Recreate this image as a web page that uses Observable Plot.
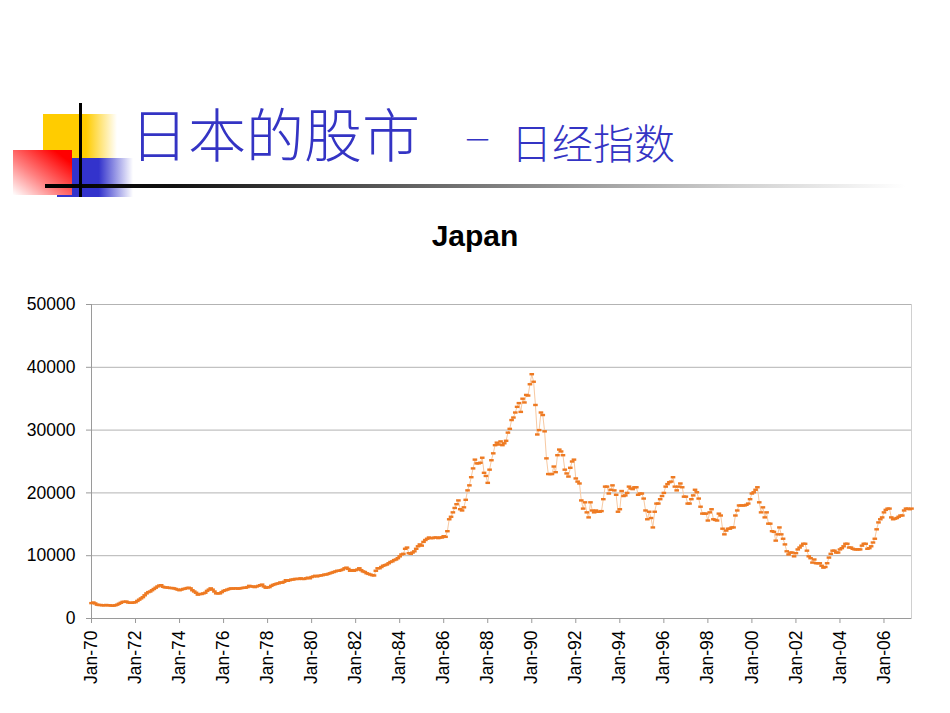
<!DOCTYPE html>
<html>
<head>
<meta charset="utf-8">
<script src="https://cdn.jsdelivr.net/npm/d3@7"></script>
<script src="https://cdn.jsdelivr.net/npm/@observablehq/plot@0.6"></script>
<style>
  html, body { margin: 0; padding: 0; background: #fff; }
  #page { position: relative; width: 950px; height: 713px; overflow: hidden; background: #fff; }
  .abs { position: absolute; }
  #title1 { left: 130px; top: 103px; font-family: "Noto Sans CJK SC", sans-serif; font-weight: 300; font-size: 58px; line-height: 58px; color: #3434c4; white-space: nowrap; }
  #dash { left: 463px; top: 124px; font-family: "Noto Sans CJK SC", sans-serif; font-weight: 300; font-size: 29px; line-height: 29px; color: #3434c4; white-space: nowrap; }
  #title2 { left: 511px; top: 121px; font-family: "Noto Sans CJK SC", sans-serif; font-weight: 300; font-size: 41px; line-height: 41px; color: #3434c4; white-space: nowrap; }
  #ctitle { left: 0; width: 950px; top: 220px; text-align: center; font-family: "Liberation Sans", Arial, sans-serif; font-weight: bold; font-size: 30px; line-height: 32px; color: #000; }
  #chart { left: 0; top: 280px; }
</style>
</head>
<body>
<div id="page">
  <div class="abs" style="left:43px;top:114px;width:74px;height:72px;background:linear-gradient(to right,#ffcc00 0%,#ffcc00 58%,#ffffff 100%);"></div>
  <div class="abs" style="left:57px;top:158px;width:76px;height:39px;background:linear-gradient(to right,#3333cc 0%,#3333cc 55%,#ffffff 100%);"></div>
  <div class="abs" style="left:13px;top:150px;width:59px;height:45px;background:linear-gradient(to bottom left,#ff0000 15%,#ff8080 60%,#ffffff 100%);"></div>
  <div class="abs" style="left:45px;top:184px;width:860px;height:4px;background:linear-gradient(to right,#000 0%,#111 15%,#777 50%,#cfcfcf 80%,#fff 100%);"></div>
  <div class="abs" style="left:79px;top:103px;width:3px;height:94px;background:#000;"></div>
  <div id="title1" class="abs">日本的股市</div>
  <div id="dash" class="abs">－</div>
  <div id="title2" class="abs">日经指数</div>
  <div id="ctitle" class="abs">Japan</div>
  <div id="chart" class="abs"></div>
</div>
<script>
// Nikkei 225, monthly (Jan-1970 ... Apr-2007)
const nikkei1970s = [
  2450, 2550, 2400, 2200, 2150, 2150, 2100, 2100, 2150, 2100, 2100, 2050,
  2050, 2100, 2200, 2350, 2500, 2650, 2650, 2700, 2550, 2500, 2500, 2550,
  2600, 2800, 3000, 3200, 3400, 3700, 4000, 4200, 4300, 4500, 4700, 4900,
  5100, 5250, 5300, 5050, 4950, 4950, 4900, 4850, 4850, 4800, 4700, 4600,
  4500, 4600, 4700, 4750, 4850, 4900, 4800, 4500, 4300, 4100, 3800, 3900,
  3900, 4000, 4100, 4400, 4600, 4800, 4600, 4300, 4000, 4000, 4000, 4200,
  4400, 4500, 4600, 4700, 4800, 4750, 4800, 4800, 4750, 4800, 4850, 4900,
  4900, 5000, 5200, 5100, 5100, 5000, 5100, 5200, 5300, 5400, 5100, 4900,
  4950, 5000, 5200, 5350, 5450, 5550, 5600, 5750, 5700, 5850, 6100, 6000,
  6100, 6200, 6200, 6300, 6300, 6300, 6400, 6300, 6300, 6400, 6500, 6400
];
const nikkei1980s = [
  6600, 6700, 6800, 6700, 6800, 6850, 6900, 7000, 7000, 7100, 7200, 7300,
  7400, 7500, 7600, 7600, 7700, 7800, 8000, 8100, 7900, 7600, 7700, 7600,
  7700, 7800, 8000, 7700, 7500, 7400, 7200, 7100, 7000, 6900, 6850, 7600,
  8000, 8000, 8200, 8400, 8500, 8600, 8800, 9000, 9100, 9300, 9400, 9600,
  9900, 10200, 10300, 11100, 11300, 10400, 10300, 10500, 10700, 11100, 11500, 11800,
  11600, 12200, 12500, 12700, 12900, 12800, 12800, 12900, 12900, 12800, 12900, 12900,
  13100, 13000, 13900, 15800, 16200, 16900, 17600, 18200, 18800, 17400, 17200, 17700,
  18900, 20400, 21200, 22500, 23900, 25300, 24700, 24700, 24800, 25600, 23200, 22700,
  21600, 23700, 25200, 26300, 27600, 28000, 27700, 28200, 27600, 27900, 28300, 29600,
  30200, 31600, 32000, 32800, 33700, 34300, 32900, 35000, 34400, 35600, 35500, 37300
];
const nikkei1990s = [
  38900, 37700, 34000, 29300, 30000, 32800, 32400, 29800, 25500, 23000, 23000, 23000,
  24200, 23300, 26000, 26900, 26600, 26000, 23700, 23100, 22600, 24000, 25000, 25300,
  22300, 21800, 21500, 18800, 17500, 18500, 16900, 16100, 18500, 17200, 16900, 17200,
  17000, 17000, 17100, 19000, 21000, 21000, 19900, 20500, 21200, 20400, 19700, 17000,
  17400, 20300, 19500, 19600, 20000, 21000, 20700, 20600, 20900, 20900, 19700, 19900,
  19900, 19100, 17200, 15800, 17000, 16000, 14500, 17000, 18300, 18300, 19000, 19500,
  20000, 21000, 21400, 21700, 21800, 22500, 21000, 20400, 21000, 21500, 20900, 19400,
  19400, 18300, 18300, 19000, 19600, 20500, 20100, 19100, 17800, 16700, 16700, 16700,
  15600, 16900, 17400, 15800, 15700, 15600, 16700, 16400, 14300, 13400, 14000, 14300,
  14300, 14500, 14500, 16400, 17200, 18000, 18000, 18000, 18000, 18100, 18300, 19000
];
const nikkei2000s = [
  19900, 20100, 20500, 20900, 18500, 16900, 17700, 16100, 16900, 15100, 15100, 13900,
  13800, 12400, 13400, 14500, 13400, 12700, 11800, 10700, 10200, 10500, 10500, 9900,
  10400, 11000, 11300, 11600, 11900, 11900, 10800, 9900, 9600, 8900, 9400, 8800,
  8800, 8800, 8400, 8100, 8200, 8800, 9700, 10300, 10800, 10800, 10500, 10500,
  11000, 11200, 11500, 11900, 11900, 11300, 11300, 11100, 11000, 11000, 11000, 11000,
  11600, 11900, 11900, 11100, 11200, 11500, 12100, 12700, 14200, 15300, 15800, 16100,
  16900, 17300, 17500, 17500, 16100, 15800, 15900, 16000, 16200, 16400, 16400, 17200,
  17500, 17500, 17400, 17500
];
const tickLabels = ["Jan-70","Jan-72","Jan-74","Jan-76","Jan-78","Jan-80","Jan-82","Jan-84","Jan-86",
  "Jan-88","Jan-90","Jan-92","Jan-94","Jan-96","Jan-98","Jan-00","Jan-02","Jan-04","Jan-06"];
const yTicks = [0, 10000, 20000, 30000, 40000, 50000];

const values = [...nikkei1970s, ...nikkei1980s, ...nikkei1990s, ...nikkei2000s];
const data = values.map((v, i) => ({i, v}));
const xTicks = tickLabels.map((_, k) => k * 24);
const dash = { draw(ctx) { ctx.rect(-2.3, -1.2, 4.6, 2.4); } };

const plot = Plot.plot({
  width: 950,
  height: 433,
  marginLeft: 91,
  marginRight: 39,
  marginTop: 24,
  marginBottom: 95,
  style: { fontFamily: "'Liberation Sans', Arial, sans-serif", fontSize: "17.5px", color: "#000", background: "transparent" },
  x: { type: "linear", domain: [0, values.length - 1] },
  y: { domain: [0, 50000] },
  marks: [
    Plot.frame({ stroke: "#d0d0d0" }),
    Plot.gridY(yTicks, { stroke: "#b3b3b3", strokeOpacity: 1 }),
    Plot.ruleX([0], { stroke: "#9a9a9a" }),
    Plot.ruleY([0], { stroke: "#9a9a9a" }),
    Plot.axisY(yTicks, { tickSize: 5, tickPadding: 11, stroke: "#9a9a9a", fill: "#000", tickFormat: d => String(d), label: null }),
    Plot.axisX(xTicks, { tickSize: 5, tickPadding: 7, tickRotate: -90, stroke: "#9a9a9a", fill: "#000", tickFormat: (d, k) => tickLabels[k], label: null }),
    Plot.line(data, { x: "i", y: "v", stroke: "#f7c9a2", strokeWidth: 1 }),
    Plot.dot(data, { x: "i", y: "v", symbol: dash, fill: "#ee7a22", stroke: null, r: 2 })
  ]
});
document.getElementById("chart").appendChild(plot);
</script>
</body>
</html>
